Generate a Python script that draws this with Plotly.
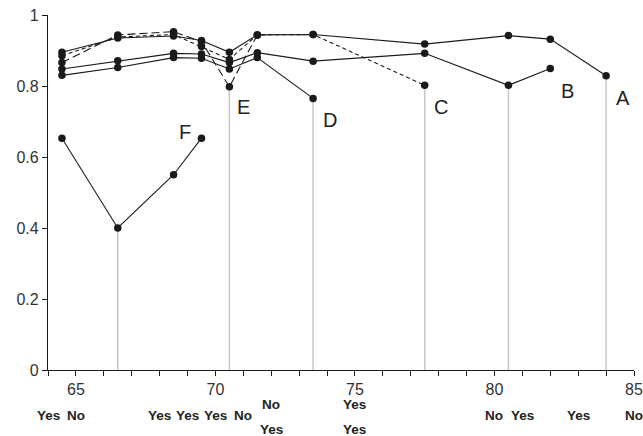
import plotly.graph_objects as go

# ---- data ----
x_a = [64.5, 66.5, 68.5, 69.5, 70.5, 71.5, 73.5, 77.5, 80.5, 82, 84]
y_a = [0.895, 0.935, 0.941, 0.928, 0.895, 0.944, 0.945, 0.918, 0.942, 0.932, 0.829]

x_b = [64.5, 66.5, 68.5, 69.5, 70.5, 71.5, 73.5, 77.5, 80.5, 82]
y_b = [0.848, 0.871, 0.892, 0.890, 0.866, 0.894, 0.870, 0.892, 0.802, 0.849]

x_c = [64.5, 66.5, 68.5, 69.5, 70.5, 71.5, 73.5, 77.5]
y_c = [0.885, 0.938, 0.945, 0.911, 0.875, 0.944, 0.945, 0.802]

x_d = [64.5, 66.5, 68.5, 69.5, 70.5, 71.5, 73.5]
y_d = [0.830, 0.852, 0.880, 0.878, 0.848, 0.880, 0.765]

x_e = [64.5, 66.5, 68.5, 69.5, 70.5, 71.5]
y_e = [0.866, 0.944, 0.953, 0.925, 0.798, 0.944]

x_f = [64.5, 66.5, 68.5, 69.5]
y_f = [0.653, 0.400, 0.550, 0.653]

# grey drop lines (x, value)
drop_x = [66.5, 70.5, 73.5, 77.5, 80.5, 84]
drop_y = [0.400, 0.798, 0.765, 0.802, 0.802, 0.829]

# series labels
label_text = ["A", "B", "C", "D", "E", "F"]
label_x = [84.6, 82.6, 78.1, 74.1, 71.0, 68.9]
label_y = [0.766, 0.786, 0.741, 0.704, 0.741, 0.670]

# Yes/No row under the axis
answer_x = [64, 65, 68, 69, 70, 71, 72, 75, 80, 81, 83, 85]
answer_top = ["Yes", "No", "Yes", "Yes", "Yes", "No", "No", "Yes", "No", "Yes", "Yes", "No"]
answer_bottom = ["", "", "", "", "", "", "Yes", "Yes", "", "", "", ""]

y_ticks = [0, 0.2, 0.4, 0.6, 0.8, 1]
y_tick_text = ["0", "0.2", "0.4", "0.6", "0.8", "1"]

FONT = "Arial, Liberation Sans, sans-serif"
INK = "#1a1a1a"

fig = go.Figure()

for dx, dy in zip(drop_x, drop_y):
    fig.add_trace(go.Scatter(x=[dx, dx], y=[0, dy], mode="lines",
                             line=dict(color="#c8c8c8", width=1.5),
                             hoverinfo="skip", showlegend=False))

series = [
    (x_a, y_a, "solid"),
    (x_b, y_b, "solid"),
    (x_d, y_d, "solid"),
    (x_c, y_c, "4px,3px"),
    (x_e, y_e, "8px,4px"),
    (x_f, y_f, "solid"),
]
for xs, ys, dash in series:
    fig.add_trace(go.Scatter(x=xs, y=ys, mode="lines+markers",
                             line=dict(color=INK, width=1.1, dash=dash),
                             marker=dict(color=INK, size=7.5),
                             showlegend=False))

for t, lx, ly in zip(label_text, label_x, label_y):
    fig.add_annotation(x=lx, y=ly, text=t, showarrow=False,
                       font=dict(family=FONT, size=20, color="#222"))

for ax_, top, bot in zip(answer_x, answer_top, answer_bottom):
    afont = dict(family=FONT, size=13.5, color="#222")
    if bot:
        fig.add_annotation(x=ax_, y=0, yref="y", text="<b>%s</b>" % top,
                           showarrow=False, yshift=-34, font=afont)
        fig.add_annotation(x=ax_, y=0, yref="y", text="<b>%s</b>" % bot,
                           showarrow=False, yshift=-59, font=afont)
    else:
        fig.add_annotation(x=ax_, y=0, yref="y", text="<b>%s</b>" % top,
                           showarrow=False, yshift=-45, font=afont)

fig.update_layout(
    width=643, height=436,
    margin=dict(l=48, r=9, t=15, b=66, autoexpand=False),
    paper_bgcolor="white", plot_bgcolor="white",
    font=dict(family=FONT, size=16, color="#333"),
    xaxis=dict(range=[64, 85], dtick=5, tick0=65, showgrid=False, zeroline=False,
               automargin=False, ticklabeloverflow="allow",
               showline=True, linecolor=INK, linewidth=1.2,
               ticks="outside", ticklen=5, tickcolor=INK,
               minor=dict(dtick=1, ticks="outside", ticklen=5, tickcolor=INK),
               tickfont=dict(family=FONT, size=16, color="#333")),
    yaxis=dict(range=[0, 1], tickvals=y_ticks, ticktext=y_tick_text,
               showgrid=False, zeroline=False, automargin=False,
               ticklabeloverflow="allow",
               showline=True, linecolor=INK, linewidth=1.2,
               ticks="outside", ticklen=5, tickcolor=INK,
               tickfont=dict(family=FONT, size=16, color="#333")),
)
for tr in fig.data:
    tr.cliponaxis = False

fig.write_html(
    "out.html",
    config={"displayModeBar": False},
    post_script="document.body.style.margin='0';document.body.style.overflow='hidden';",
)
